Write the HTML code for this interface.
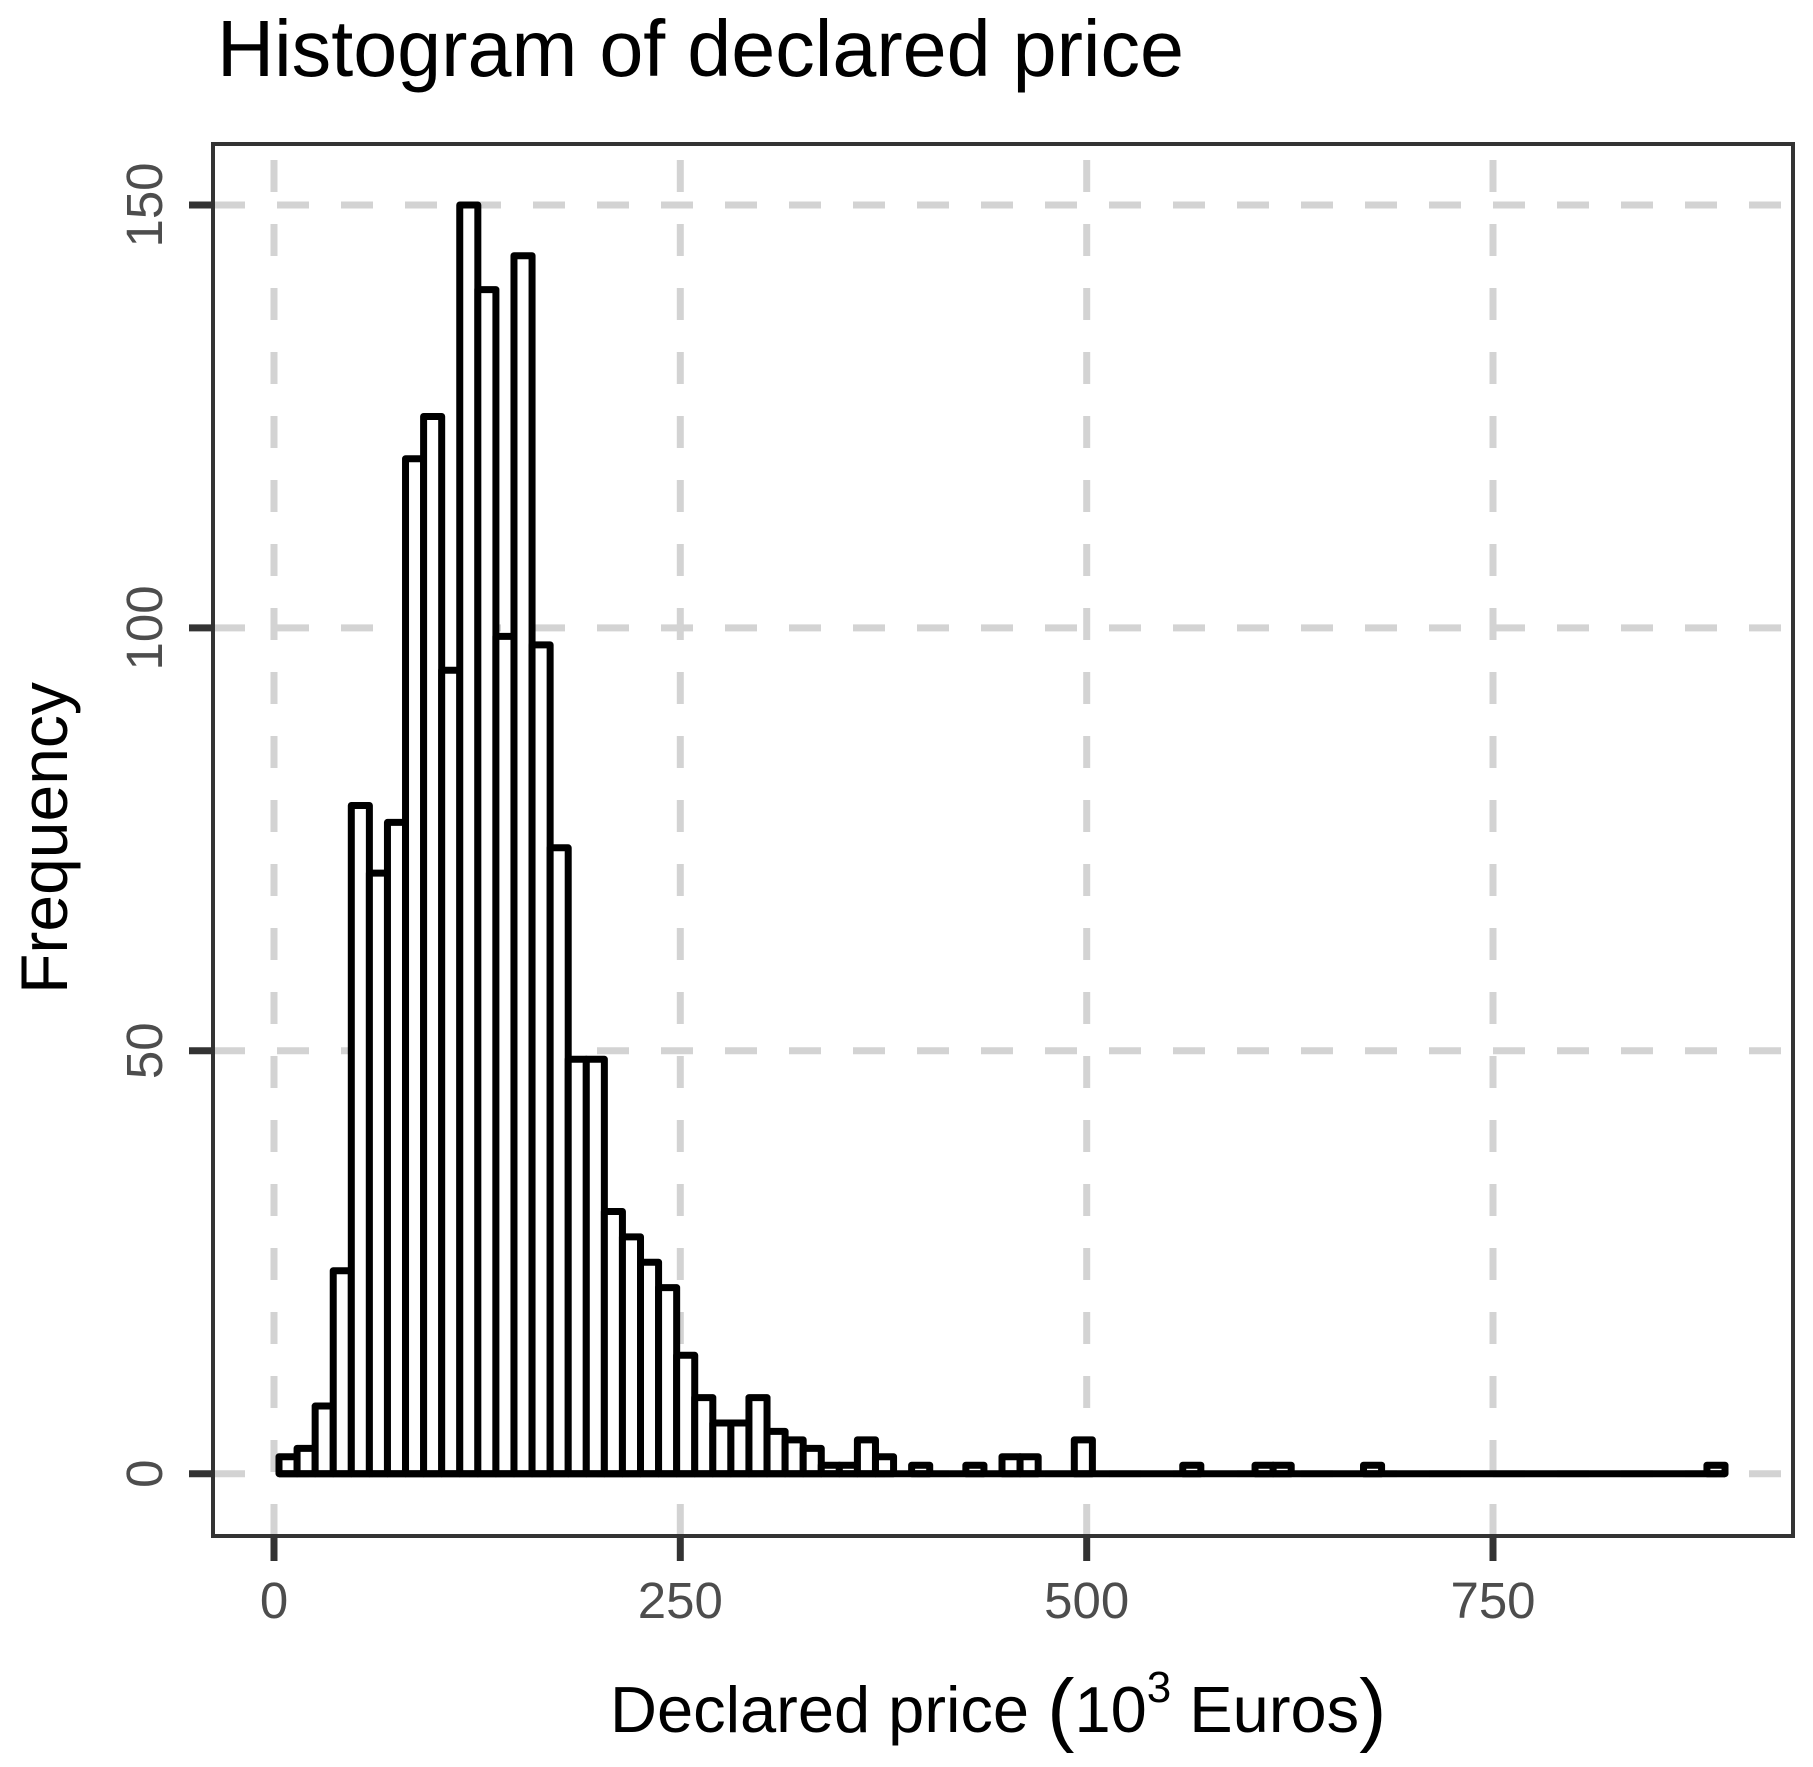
<!DOCTYPE html>
<html><head><meta charset="utf-8"><style>html,body{margin:0;padding:0;background:#fff}svg{display:block}</style></head>
<body>
<svg width="1813" height="1767" viewBox="0 0 1813 1767" xmlns="http://www.w3.org/2000/svg" font-family="Liberation Sans, Arial, sans-serif">
<rect width="1813" height="1767" fill="#fff"/>
<text x="217" y="76" font-size="80" fill="#000" textLength="967" lengthAdjust="spacingAndGlyphs">Histogram of declared price</text>
<g stroke="#d3d3d3" stroke-width="7" stroke-dasharray="32 32" fill="none">
<line x1="213" y1="1473.7" x2="1793" y2="1473.7"/>
<line x1="213" y1="1050.8" x2="1793" y2="1050.8"/>
<line x1="213" y1="627.9" x2="1793" y2="627.9"/>
<line x1="213" y1="205" x2="1793" y2="205"/>
<line x1="274" y1="1536" x2="274" y2="144"/>
<line x1="680.3" y1="1536" x2="680.3" y2="144"/>
<line x1="1086.7" y1="1536" x2="1086.7" y2="144"/>
<line x1="1493" y1="1536" x2="1493" y2="144"/>
</g>
<g fill="#fff" stroke="#000" stroke-width="7" stroke-linejoin="round">
<rect x="279.00" y="1456.78" width="18.08" height="16.92"/>
<rect x="297.08" y="1448.33" width="18.08" height="25.37"/>
<rect x="315.15" y="1406.04" width="18.08" height="67.66"/>
<rect x="333.23" y="1270.71" width="18.08" height="202.99"/>
<rect x="351.30" y="805.52" width="18.08" height="668.18"/>
<rect x="369.38" y="873.18" width="18.08" height="600.52"/>
<rect x="387.45" y="822.43" width="18.08" height="651.27"/>
<rect x="405.53" y="458.74" width="18.08" height="1014.96"/>
<rect x="423.60" y="416.45" width="18.08" height="1057.25"/>
<rect x="441.68" y="670.19" width="18.08" height="803.51"/>
<rect x="459.75" y="205.00" width="18.08" height="1268.70"/>
<rect x="477.83" y="289.58" width="18.08" height="1184.12"/>
<rect x="495.90" y="636.36" width="18.08" height="837.34"/>
<rect x="513.98" y="255.75" width="18.08" height="1217.95"/>
<rect x="532.05" y="644.82" width="18.08" height="828.88"/>
<rect x="550.13" y="847.81" width="18.08" height="625.89"/>
<rect x="568.20" y="1059.26" width="18.08" height="414.44"/>
<rect x="586.28" y="1059.26" width="18.08" height="414.44"/>
<rect x="604.35" y="1211.50" width="18.08" height="262.20"/>
<rect x="622.43" y="1236.88" width="18.08" height="236.82"/>
<rect x="640.50" y="1262.25" width="18.08" height="211.45"/>
<rect x="658.58" y="1287.62" width="18.08" height="186.08"/>
<rect x="676.65" y="1355.29" width="18.08" height="118.41"/>
<rect x="694.73" y="1397.58" width="18.08" height="76.12"/>
<rect x="712.80" y="1422.95" width="18.08" height="50.75"/>
<rect x="730.88" y="1422.95" width="18.08" height="50.75"/>
<rect x="748.95" y="1397.58" width="18.08" height="76.12"/>
<rect x="767.03" y="1431.41" width="18.08" height="42.29"/>
<rect x="785.10" y="1439.87" width="18.08" height="33.83"/>
<rect x="803.18" y="1448.33" width="18.08" height="25.37"/>
<rect x="821.25" y="1465.24" width="18.08" height="8.46"/>
<rect x="839.33" y="1465.24" width="18.08" height="8.46"/>
<rect x="857.40" y="1439.87" width="18.08" height="33.83"/>
<rect x="875.48" y="1456.78" width="18.08" height="16.92"/>
<rect x="911.63" y="1465.24" width="18.08" height="8.46"/>
<rect x="965.85" y="1465.24" width="18.08" height="8.46"/>
<rect x="1002.00" y="1456.78" width="18.08" height="16.92"/>
<rect x="1020.08" y="1456.78" width="18.08" height="16.92"/>
<rect x="1074.30" y="1439.87" width="18.08" height="33.83"/>
<rect x="1182.75" y="1465.24" width="18.08" height="8.46"/>
<rect x="1255.05" y="1465.24" width="18.08" height="8.46"/>
<rect x="1273.13" y="1465.24" width="18.08" height="8.46"/>
<rect x="1363.50" y="1465.24" width="18.08" height="8.46"/>
<rect x="1706.93" y="1465.24" width="18.08" height="8.46"/>
</g>
<line x1="279" y1="1473.7" x2="1725" y2="1473.7" stroke="#000" stroke-width="7"/>
<rect x="213" y="144" width="1580" height="1392" fill="none" stroke="#333" stroke-width="4"/>
<g stroke="#333" stroke-width="7">
<line x1="189" y1="1473.7" x2="213" y2="1473.7"/>
<line x1="189" y1="1050.8" x2="213" y2="1050.8"/>
<line x1="189" y1="627.9" x2="213" y2="627.9"/>
<line x1="189" y1="205" x2="213" y2="205"/>
<line x1="274" y1="1536" x2="274" y2="1561"/>
<line x1="680.3" y1="1536" x2="680.3" y2="1561"/>
<line x1="1086.7" y1="1536" x2="1086.7" y2="1561"/>
<line x1="1493" y1="1536" x2="1493" y2="1561"/>
</g>
<g font-size="51" fill="#4d4d4d" text-anchor="middle">
<text x="274" y="1618">0</text>
<text x="680.3" y="1618">250</text>
<text x="1086.7" y="1618">500</text>
<text x="1493" y="1618">750</text>
<text transform="translate(162,1473.7) rotate(-90)">0</text>
<text transform="translate(162,1050.8) rotate(-90)">50</text>
<text transform="translate(162,627.9) rotate(-90)">100</text>
<text transform="translate(162,205) rotate(-90)">150</text>
</g>
<text x="610" y="1732" font-size="65" fill="#000">Declared price <tspan font-size="82" dy="4">(</tspan><tspan dy="-4">10</tspan><tspan font-size="44" dy="-30">3</tspan><tspan dy="30"> Euros</tspan><tspan font-size="82" dy="4">)</tspan></text>
<text transform="translate(67,838) rotate(-90)" font-size="66" fill="#000" text-anchor="middle">Frequency</text>
</svg>
</body></html>
